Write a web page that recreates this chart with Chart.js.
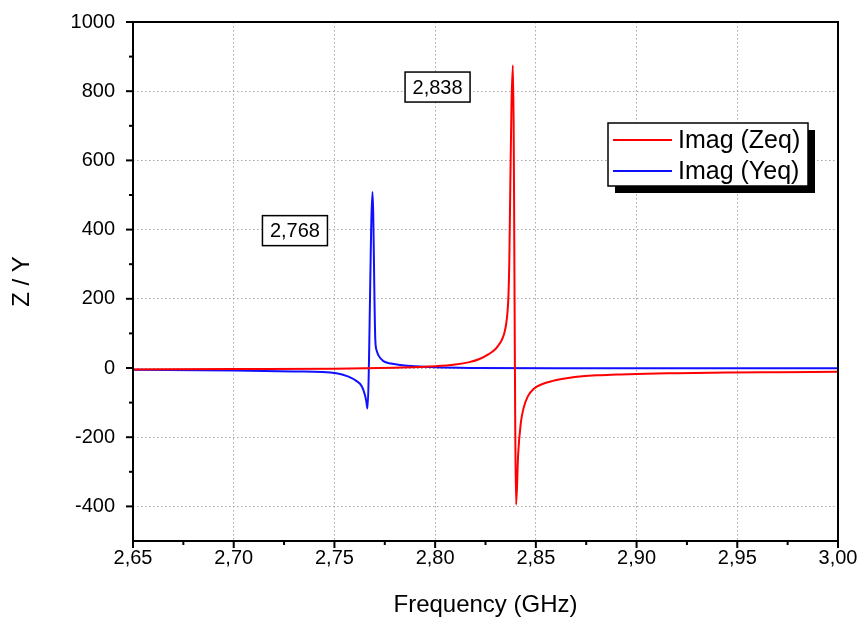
<!DOCTYPE html>
<html>
<head>
<meta charset="utf-8">
<title>Imag (Zeq) / Imag (Yeq)</title>
<script src="https://cdn.jsdelivr.net/npm/chart.js@4/dist/chart.umd.min.js"></script>
<style>
    html, body { margin: 0; padding: 0; background: #fff; }
</style>
</head>
<body>
<canvas id="impChart" width="866" height="626"></canvas>
<script>
// Imaginary part of the equivalent impedance (Zeq) around the series resonance
const zeqFreq = [2.65, 2.70, 2.75, 2.78, 2.80, 2.81, 2.817, 2.822, 2.8266, 2.830, 2.8315, 2.833,
    2.8343, 2.8352, 2.8359, 2.8364, 2.8368, 2.8373, 2.8379, 2.8386, 2.8402, 2.8412, 2.8425, 2.8439,
    2.846, 2.849, 2.853, 2.858, 2.866, 2.873, 2.881, 2.89, 2.90, 2.92, 2.945, 2.97, 3.00];
const zeqImag = [-4, -3, -2, 1, 5, 10, 17, 26, 40, 55, 66, 80,
    100, 125, 160, 210, 300, 520, 760, 875, -395, -250, -160, -116,
    -82, -60, -47, -38, -29, -24, -21, -19, -17, -15, -13, -12, -11];

// Imaginary part of the equivalent admittance (Yeq) around the parallel resonance
const yeqFreq = [2.65, 2.70, 2.73, 2.751, 2.757, 2.761, 2.7635, 2.765, 2.7658, 2.7664, 2.7689,
    2.7703, 2.771, 2.772, 2.7743, 2.778, 2.7826, 2.79, 2.80, 2.82, 2.86, 3.00];
const yeqImag = [-5, -7, -10, -15, -25, -38, -52, -75, -95, -117, 509,
    80, 50, 35, 20, 13, 9, 5, 2, 0, -1, -1];

const seriesNames = ['Imag (Zeq)', 'Imag (Yeq)'];
const peakLabels = ['2,768', '2,838'];

const xTicks = [2.65, 2.70, 2.75, 2.80, 2.85, 2.90, 2.95, 3.00];
const yTicks = [-400, -200, 0, 200, 400, 600, 800, 1000];

const FONT = "'Liberation Sans', Arial, sans-serif";
Chart.defaults.font.family = FONT;
Chart.defaults.color = '#000';

function toPoints(xs, ys) {
    return xs.map(function(v, i) { return { x: v, y: ys[i] }; });
}

// frame, outward major/minor ticks, peak notes and the boxed legend
const decorPlugin = {
    id: 'decor',
    afterDraw: function(chart) {
        const ctx = chart.ctx;
        const a = chart.chartArea;
        const xs = chart.scales.x;
        const ys = chart.scales.y;
        ctx.save();

        ctx.strokeStyle = '#000';
        ctx.lineWidth = 2;
        ctx.strokeRect(a.left, a.top, a.right - a.left, a.bottom - a.top);

        function seg(x1, y1, x2, y2) {
            ctx.beginPath();
            ctx.moveTo(x1, y1);
            ctx.lineTo(x2, y2);
            ctx.stroke();
        }
        xTicks.forEach(function(v, i) {
            const px = xs.getPixelForValue(v);
            seg(px, a.bottom, px, a.bottom + 7);
            if (i < xTicks.length - 1) {
                const mx = xs.getPixelForValue((v + xTicks[i + 1]) / 2);
                seg(mx, a.bottom, mx, a.bottom + 4);
            }
        });
        yTicks.forEach(function(v, i) {
            const py = ys.getPixelForValue(v);
            seg(a.left - 7, py, a.left, py);
            if (i < yTicks.length - 1) {
                const my = ys.getPixelForValue((v + yTicks[i + 1]) / 2);
                seg(a.left - 4, my, a.left, my);
            }
        });

        // boxed peak notes
        const notePos = [[2.7304, 397], [2.8012, 812]];
        ctx.font = '20px ' + FONT;
        ctx.textAlign = 'center';
        ctx.textBaseline = 'middle';
        peakLabels.forEach(function(txt, i) {
            const cx = xs.getPixelForValue(notePos[i][0]);
            const cy = ys.getPixelForValue(notePos[i][1]);
            const w = 65, h = 30;
            ctx.fillStyle = '#fff';
            ctx.fillRect(cx - w / 2, cy - h / 2, w, h);
            ctx.lineWidth = 1.5;
            ctx.strokeStyle = '#000';
            ctx.strokeRect(cx - w / 2, cy - h / 2, w, h);
            ctx.fillStyle = '#000';
            ctx.fillText(txt, cx, cy + 1);
        });

        // legend with drop shadow
        const lx = a.right - 230, ly = a.top + 101, lw = 200, lh = 63;
        ctx.fillStyle = '#000';
        ctx.fillRect(lx + 7, ly + 7, lw, lh);
        ctx.fillStyle = '#fff';
        ctx.fillRect(lx, ly, lw, lh);
        ctx.lineWidth = 1.5;
        ctx.strokeRect(lx, ly, lw, lh);
        ctx.font = '25px ' + FONT;
        ctx.textAlign = 'left';
        chart.data.datasets.forEach(function(ds, i) {
            const ry = ly + 17 + i * 31;
            ctx.strokeStyle = ds.borderColor;
            ctx.lineWidth = 2;
            seg(lx + 5, ry, lx + 64, ry);
            ctx.fillStyle = '#000';
            ctx.fillText(ds.label, lx + 70, ry + 1);
        });
        ctx.restore();
    }
};

const chart = new Chart(document.getElementById('impChart'), {
    type: 'scatter',
    data: {
        datasets: [{
            label: seriesNames[0],
            data: toPoints(zeqFreq, zeqImag),
            showLine: true,
            borderColor: '#ff0000',
            borderWidth: 2,
            pointRadius: 0,
            cubicInterpolationMode: 'monotone'
        }, {
            label: seriesNames[1],
            data: toPoints(yeqFreq, yeqImag),
            showLine: true,
            borderColor: '#1010ff',
            borderWidth: 2,
            pointRadius: 0,
            cubicInterpolationMode: 'monotone'
        }]
    },
    options: {
        responsive: false,
        animation: false,
        layout: {
            padding: { left: 0, top: 22, right: 28, bottom: 0 }
        },
        plugins: {
            legend: { display: false },
            tooltip: { enabled: false }
        },
        scales: {
            x: {
                type: 'linear',
                min: 2.65,
                max: 3.00,
                afterBuildTicks: function(scale) {
                    scale.ticks = xTicks.map(function(v) { return { value: v }; });
                },
                afterFit: function(scale) { scale.height = 85; },
                ticks: {
                    padding: 5,
                    font: { size: 20 },
                    maxRotation: 0,
                    callback: function(v) { return v.toFixed(2).replace('.', ','); }
                },
                grid: {
                    drawTicks: false,
                    color: '#a8a8a8',
                    lineWidth: 1
                },
                border: { display: false, dash: [1.5, 2.5] },
                title: {
                    display: true,
                    text: 'Frequency (GHz)',
                    font: { size: 24 },
                    padding: { top: 0, bottom: 6 }
                }
            },
            y: {
                type: 'linear',
                min: -500,
                max: 1000,
                afterBuildTicks: function(scale) {
                    scale.ticks = yTicks.map(function(v) { return { value: v }; });
                },
                afterFit: function(scale) { scale.width = 133; },
                ticks: {
                    padding: 2,
                    font: { size: 20 },
                    callback: function(v) { return String(v); }
                },
                grid: {
                    drawTicks: true,
                    tickLength: 16,
                    tickColor: 'rgba(0,0,0,0)',
                    color: '#a8a8a8',
                    lineWidth: 1
                },
                border: { display: false, dash: [1.5, 2.5] },
                title: {
                    display: true,
                    text: 'Z / Y',
                    font: { size: 24 },
                    padding: { top: 8, bottom: 0 }
                }
            }
        }
    },
    plugins: [decorPlugin]
});
</script>
</body>
</html>
